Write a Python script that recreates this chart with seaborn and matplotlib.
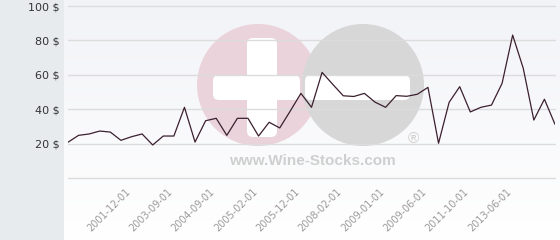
import numpy as np
import pandas as pd
import matplotlib
matplotlib.use("Agg")
import matplotlib.pyplot as plt
import matplotlib.transforms as mtransforms
from matplotlib.patches import Circle, FancyBboxPatch
from matplotlib.colors import LinearSegmentedColormap
import seaborn as sns

# ---- data ----
prices = [20.8, 24.8, 25.6, 27.3, 26.7, 21.9, 24.0, 25.6, 19.2, 24.4,
          24.4, 41.1, 20.9, 33.3, 34.7, 24.8, 34.7, 34.7, 24.4, 32.4,
          29.1, 39.0, 49.2, 41.1, 61.4, 54.5, 47.8, 47.4, 49.2, 44.1,
          41.1, 47.9, 47.5, 48.7, 52.7, 20.2, 44.0, 53.1, 38.4, 41.1,
          42.4, 55.0, 83.1, 63.8, 33.7, 45.8, 31.2]
tick_labels = ["2001-12-01", "2003-09-01", "2004-09-01", "2005-02-01",
               "2005-12-01", "2008-02-01", "2009-01-01", "2009-06-01",
               "2011-10-01", "2013-06-01"]
first_labeled = 6
label_step = 4
y_ticks = [0, 20, 40, 60, 80, 100]

df = pd.DataFrame({"idx": np.arange(len(prices)), "price": prices})

sns.set_theme(style="white")
plt.rcParams['font.family'] = ['DejaVu Sans']

W, H = 560, 240
fig = plt.figure(figsize=(W / 100, H / 100), dpi=100)
fig.patch.set_facecolor("#e7ebee")

# background + watermark layer (pixel coordinates)
bg = fig.add_axes([0, 0, 1, 1], zorder=0)
bg.axis("off")
grad = np.linspace(0, 1, 256)[:, None]
cmap = LinearSegmentedColormap.from_list("g", ["#f2f3f7", "#ffffff"])
bg.imshow(grad, cmap=cmap, extent=(64, W, H, 0), aspect="auto", zorder=0)
bg.set_xlim(0, W)
bg.set_ylim(H, 0)

pink = "#ead3da"
grey = "#d7d7d8"
bg.add_patch(Circle((258, 85), 61, color=pink, zorder=1, lw=0))
bg.add_patch(Circle((363, 85), 61, color=grey, zorder=2, lw=0))
# plus sign
bg.add_patch(FancyBboxPatch((247 + 6, 38 + 6), 30 - 12, 99 - 12,
                            boxstyle="round,pad=6", color="white", zorder=3, lw=0))
bg.add_patch(FancyBboxPatch((213 + 6, 75 + 6), 87 - 12, 25 - 12,
                            boxstyle="round,pad=6", color="white", zorder=3, lw=0))
# minus sign
bg.add_patch(FancyBboxPatch((305 + 6, 75 + 6), 105 - 12, 25 - 12,
                            boxstyle="round,pad=6", color="white", zorder=3, lw=0))
bg.text(312, 161, "www.Wine-Stocks.com", ha="center", va="center",
        fontsize=11, fontweight="bold", color="#cfcfcf", zorder=4,
        family=["Liberation Sans", "DejaVu Sans"])
bg.text(413, 139, "®", ha="center", va="center", fontsize=11,
        color="#cfcfcf", zorder=4, family=["Liberation Sans", "DejaVu Sans"])

# main axes
L, R, T, B = 68, 555, 6, 178
ax = fig.add_axes([L / W, 1 - B / H, (R - L) / W, (B - T) / H], zorder=2)
ax.set_facecolor("none")

sns.lineplot(data=df, x="idx", y="price", ax=ax, color="#3b1f2e", lw=0.9)

ax.set_xlim(0, len(prices) - 1)
ax.set_ylim(0, 100)
ax.set_yticks(y_ticks)
ax.set_yticklabels(["" if v == 0 else f"{v} $" for v in y_ticks],
                   fontsize=8, color="#333333")
ax.yaxis.grid(True, color="#dcdcdc", lw=1)
ax.xaxis.grid(False)
ax.set_axisbelow(True)
for gl in ax.get_ygridlines():
    gl.set_clip_on(False)
pos = [first_labeled + label_step * i for i in range(len(tick_labels))]
ax.set_xticks(pos)
ax.set_xticklabels(tick_labels, rotation=45, ha="right", va="center",
                   rotation_mode="anchor", fontsize=7, color="#9a9a9a")
ax.tick_params(axis="x", length=0, pad=9)
ax.tick_params(axis="y", length=0, pad=6)
shift = mtransforms.ScaledTranslation(-3 / 100, 0, fig.dpi_scale_trans)
for lab in ax.get_xticklabels():
    lab.set_transform(lab.get_transform() + shift)
ax.set_xlabel("")
ax.set_ylabel("")
for s in ax.spines.values():
    s.set_visible(False)

fig.savefig("out.png", dpi=100, facecolor=fig.get_facecolor())
